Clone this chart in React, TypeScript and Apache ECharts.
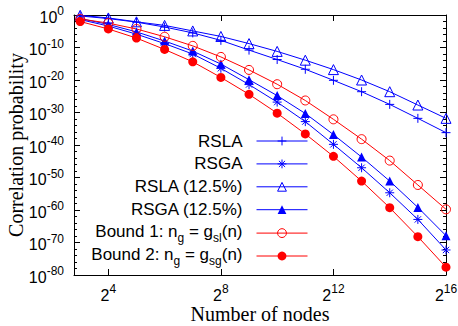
import React, { useEffect, useRef } from "react";
import * as echarts from "echarts";

// x positions as powers of two (log2 of number of nodes)
const nodeExponents = [3, 4, 5, 6, 7, 8, 9, 10, 11, 12, 13, 14, 15, 16];
const xTickExponents = [4, 8, 12, 16];

// log10 of correlation probability
const rslaLog = [-0.3, -1.1, -2.2, -3.7, -5.5, -7.8, -10.8, -13.7, -16.7, -20.1, -23.6, -27.5, -31.8, -36.2];
const rsgaLog = [-1.4, -3.4, -5.9, -8.8, -12.0, -16.4, -21.4, -26.8, -32.8, -39.8, -47.0, -54.7, -62.9, -72.3];
const rsla125Log = [-0.1, -0.9, -2.1, -3.2, -4.9, -6.6, -8.8, -11.2, -13.9, -16.8, -20.0, -23.6, -27.7, -31.8];
const rsga125Log = [-1.1, -2.9, -5.2, -8.0, -11.1, -15.1, -19.9, -24.8, -30.3, -36.8, -43.7, -51.1, -59.2, -67.9];
const bound1Log = [-1.2, -2.5, -4.3, -6.7, -9.5, -12.9, -16.9, -21.3, -26.3, -32.1, -38.2, -44.8, -52.3, -59.8];
const bound2Log = [-2.0, -4.3, -7.1, -10.6, -14.4, -19.2, -24.4, -30.2, -36.6, -43.5, -51.1, -59.3, -68.2, -77.6];

const seriesNames = ["RSLA", "RSGA", "RSLA (12.5%)", "RSGA (12.5%)", "Bound 1", "Bound 2"];
const seriesHollow = [true, true, true, false, true, false];

const SANS = "Liberation Sans, Arial, sans-serif";
const SERIF = "Liberation Serif, Times New Roman, serif";
const BLUE = "#0000ff";
const RED = "#ff0000";

const PLUS = "path://M5,0L5,10M0,5L10,5";
const STAR = "path://M5,0L5,10M0,5L10,5M1.5,1.5L8.5,8.5M1.5,8.5L8.5,1.5";

const legendRich = {
  p: { fontFamily: SANS, fontSize: 17, lineHeight: 18, color: "#000" },
  t: { fontFamily: SANS, fontSize: 17, lineHeight: 21, color: "#000", verticalAlign: "top" },
  sub: { fontFamily: SANS, fontSize: 12, lineHeight: 12, color: "#000", verticalAlign: "bottom" },
  sp: { width: 9, lineHeight: 18 },
};

const legendLabels: Record<string, string> = {
  RSLA: "{p|RSLA}{sp|}",
  RSGA: "{p|RSGA}{sp|}",
  "RSLA (12.5%)": "{p|RSLA (12.5%)}{sp|}",
  "RSGA (12.5%)": "{p|RSGA (12.5%)}{sp|}",
  "Bound 1": "{t|Bound 1: n}{sub|g}{t| = g}{sub|sl}{t|(n)}{sp|}",
  "Bound 2": "{t|Bound 2: n}{sub|g}{t| = g}{sub|sg}{t|(n)}{sp|}",
};

const legendTops = [132.5, 155.4, 178.3, 201.2, 222.6, 245.5];

function pairs(ys: number[]) {
  return nodeExponents.map((x, i) => [x, ys[i]]);
}

export default function App() {
  const ref = useRef<HTMLDivElement>(null);
  useEffect(() => {
    if (!ref.current) return;
    const chart = echarts.init(ref.current, null, { renderer: "svg" });

    const supRich = {
      b: { fontFamily: SANS, fontSize: 16, lineHeight: 20, verticalAlign: "bottom", color: "#000" },
      s: { fontFamily: SANS, fontSize: 12, lineHeight: 12, verticalAlign: "top", color: "#000" },
    };

    const axisLine = { show: true, onZero: false, lineStyle: { color: "#000", width: 1 } };

    const mk = (
      name: string,
      ys: number[],
      color: string,
      symbol: string,
      size: number,
      filled: boolean
    ) => ({
      name,
      type: "line",
      data: pairs(ys),
      xAxisIndex: 0,
      yAxisIndex: 0,
      symbol,
      symbolSize: size,
      symbolKeepAspect: true,
      showAllSymbol: true,
      color,
      lineStyle: { color, width: 1 },
      itemStyle: filled
        ? { color, borderColor: color, borderWidth: 0 }
        : { color: "none", borderColor: color, borderWidth: 1 },
      emphasis: { disabled: true },
      clip: false,
    });

    chart.setOption({
      animation: false,
      backgroundColor: "#fff",
      grid: { left: 74, right: 12, top: 15, bottom: 51, containLabel: false, outerBoundsMode: "none" },
      xAxis: [
        {
          type: "value",
          position: "bottom",
          min: 2.78,
          max: 16,
          axisLine,
          splitLine: { show: false },
          axisTick: { show: true, inside: true, length: 6, lineStyle: { color: "#000" }, customValues: xTickExponents },
          axisLabel: {
            show: true,
            margin: 8,
            customValues: xTickExponents,
            formatter: (v: number) => `{b|2}{s|${v}}`,
            rich: supRich,
          },
          name: "Number of nodes",
          nameLocation: "middle",
          nameGap: 29,
          nameMoveOverlap: false,
          nameTextStyle: { fontFamily: SERIF, fontSize: 20, color: "#000" },
        },
        {
          type: "value",
          position: "top",
          min: 2.78,
          max: 16,
          axisLine,
          splitLine: { show: false },
          axisTick: { show: true, inside: true, length: 6, lineStyle: { color: "#000" }, customValues: xTickExponents },
          axisLabel: { show: false },
        },
      ],
      yAxis: [
        {
          type: "value",
          position: "left",
          min: -80,
          max: 0,
          interval: 10,
          axisLine,
          splitLine: { show: false },
          axisTick: { show: true, inside: true, length: 6, lineStyle: { color: "#000" } },
          minorTick: { show: true, splitNumber: 5, length: 3, lineStyle: { color: "#000" } },
          axisLabel: {
            show: true,
            margin: 10,
            formatter: (v: number) => `{b|10}{s|${v}}`,
            rich: supRich,
          },
          name: "Correlation probability",
          nameLocation: "middle",
          nameGap: 48,
          nameMoveOverlap: false,
          nameRotate: 90,
          nameTextStyle: { fontFamily: SERIF, fontSize: 20, color: "#000" },
        },
        {
          type: "value",
          position: "right",
          min: -80,
          max: 0,
          interval: 10,
          axisLine,
          splitLine: { show: false },
          axisTick: { show: true, inside: true, length: 6, lineStyle: { color: "#000" } },
          minorTick: { show: true, splitNumber: 5, length: 3, lineStyle: { color: "#000" } },
          axisLabel: { show: false },
        },
      ],
      legend: seriesNames.map((n, i) => ({
        data: [n],
        right: 150,
        top: legendTops[i],
        orient: "vertical",
        align: "right",
        itemWidth: 51,
        itemHeight: 11,
        padding: 0,
        selectedMode: false,
        lineStyle: { width: 1 },
        itemStyle: { borderWidth: seriesHollow[i] ? 1 : 0 },
        formatter: (name: string) => legendLabels[name],
        textStyle: { fontFamily: SANS, fontSize: 17, color: "#000", rich: legendRich },
      })),
      series: [
        mk("RSLA", rslaLog, BLUE, PLUS, 9, false),
        mk("RSGA", rsgaLog, BLUE, STAR, 9, false),
        mk("RSLA (12.5%)", rsla125Log, BLUE, "triangle", 10, false),
        mk("RSGA (12.5%)", rsga125Log, BLUE, "triangle", 9, true),
        mk("Bound 1", bound1Log, RED, "circle", 9, false),
        mk("Bound 2", bound2Log, RED, "circle", 9, true),
      ],
    });
    return () => chart.dispose();
  }, []);
  return <div ref={ref} style={{ width: 458, height: 326, position: "absolute", left: 0, top: 0 }} />;
}
